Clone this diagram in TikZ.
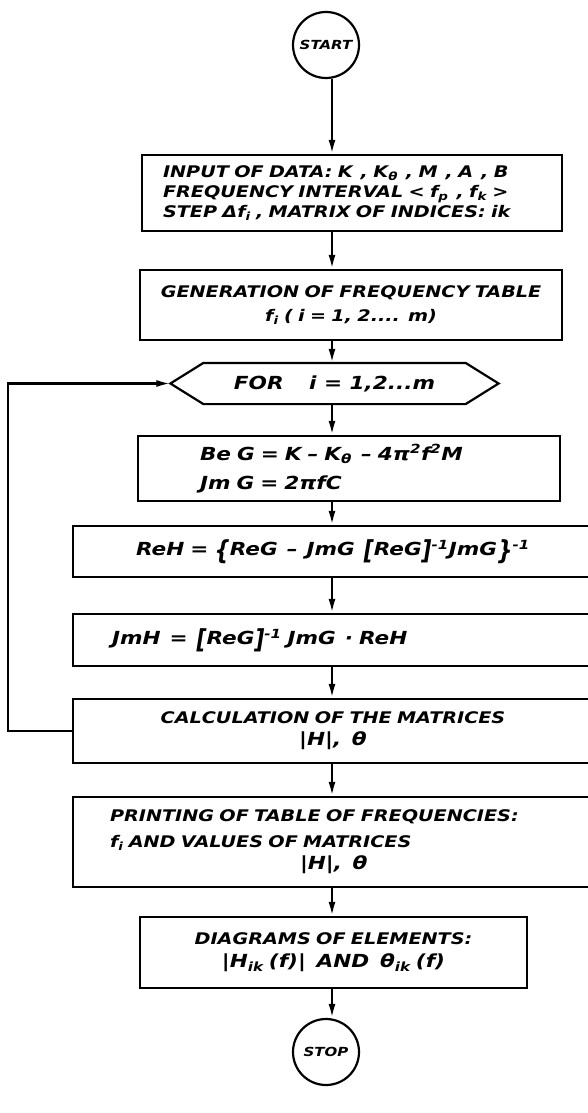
\documentclass[tikz,border=0pt]{standalone}
\usepackage{fontspec}
\usepackage{graphicx}
\setmainfont{DejaVu Sans}[FakeStretch=1.2]
\usetikzlibrary{arrows.meta, positioning}
\newcommand\eqfont{\fontsize{18}{29}\selectfont}
\newcommand\tall[1]{\raisebox{-0.35ex}{\scalebox{1}[1.45]{#1}}}

\begin{document}
\begin{tikzpicture}[x=1pt, y=-1pt, line width=2.2pt, >={Latex[length=14pt,width=7pt]},
    every node/.style={font=\fontsize{16}{20}\selectfont\bfseries\itshape},
    block/.style={draw, rectangle, inner ysep=2pt},
    term/.style={draw, circle, minimum size=66pt, inner sep=0pt, font=\fontsize{12.5}{14}\selectfont\bfseries\itshape}]
  \useasboundingbox (0,0) rectangle (588,1113);
  \coordinate (axis) at (332,0);

  % terminals and blocks
  \node[term] (start) at (326,45) {START};
  \node[block, inner xsep=21pt, text width=378pt, minimum height=76pt, align=left] (in) at (352,193)
    {INPUT OF DATA: K \,, K\textsubscript{θ} \,, M \,, A \,, B\\
     FREQUENCY INTERVAL < f\textsubscript{p} \,, f\textsubscript{k} >\\
     STEP Δf\textsubscript{i} , MATRIX OF INDICES: ik};
  \node[block, inner xsep=10pt, text width=402pt, minimum height=70pt, align=center] (gen) at (351,305)
    {GENERATION OF FREQUENCY TABLE\\[4pt] f\textsubscript{i} ( i = 1, 2.... m)};
  \node[minimum width=260pt, minimum height=39pt, inner sep=0pt, font=\eqfont\bfseries\itshape] (forloop) at (334.5,383.5)
    {FOR \quad i = 1,2...m};
  \draw ([xshift=-33pt]forloop.west) -- (forloop.north west) -- (forloop.north east)
    -- ([xshift=33pt]forloop.east) -- (forloop.south east) -- (forloop.south west) -- cycle;
  \node[block, inner xsep=62pt, text width=298pt, minimum height=65pt, align=left, font=\eqfont\bfseries\itshape] (reg) at (349,468.5)
    {Be G = K – K\textsubscript{θ} \,– 4π\textsuperscript{2}f\textsuperscript{2}M\\ Jm G = 2πfC};
  \node[block, inner xsep=10pt, text width=500pt, minimum height=51pt, align=center, font=\eqfont\bfseries\itshape] (reh) at (333,551.5)
    {ReH = \tall{\{}ReG \,–\, JmG \,\tall{[}ReG\tall{]}\textsuperscript{-1}JmG\tall{\}}\textsuperscript{-1}};
  \node[block, inner xsep=39pt, text width=442pt, minimum height=52pt, align=left, font=\eqfont\bfseries\itshape] (jmh) at (333,640)
    {JmH \,= \,\tall{[}ReG\tall{]}\textsuperscript{-1} JmG \,· ReH};
  \node[block, inner xsep=10pt, text width=500pt, minimum height=64pt, align=center] (calc) at (333,731)
    {CALCULATION OF THE MATRICES\\[2pt] {\eqfont |H|, \ θ}};
  \node[block, inner xsep=37pt, text width=446pt, minimum height=90pt, align=left] (print) at (333,842)
    {PRINTING OF TABLE OF FREQUENCIES:\\[6pt] f\textsubscript{i} AND VALUES OF MATRICES\\[2pt] \hspace*{190pt}{\eqfont |H|, \ θ}};
  \node[block, inner xsep=10pt, text width=367pt, minimum height=71pt, align=center] (diag) at (333.5,952.5)
    {DIAGRAMS OF ELEMENTS:\\[3pt] {\eqfont |H\textsubscript{ik} (f)| \ AND \ θ\textsubscript{ik} (f)}};
  \node[term] (stop) at (326,1052) {STOP};

  % flow lines
  \foreach \a/\b in {start/in, in/gen, gen/forloop, forloop/reg, reg/reh, reh/jmh, jmh/calc, calc/print, print/diag, diag/stop}
    \draw[->] (\a.south -| axis) -- (\b.north -| axis);
  \draw[->] (calc.west) -- ++(-64,0) |- ([xshift=-33pt]forloop.west);
\end{tikzpicture}
\end{document}
